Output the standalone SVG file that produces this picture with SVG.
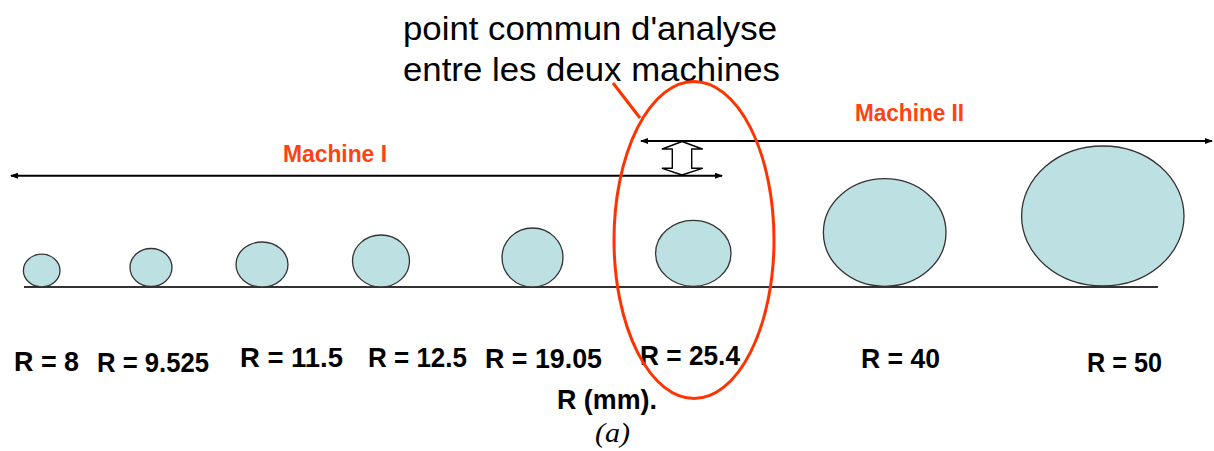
<svg xmlns="http://www.w3.org/2000/svg" width="1214" height="451" viewBox="0 0 1214 451">
  <style>
    .ball { fill: #bde0e3; stroke: #333; stroke-width: 1.3; }
    .lbl { font-family: "Liberation Sans", Arial, sans-serif; font-weight: bold; font-size: 28px; fill: #000; }
    .mach { font-family: "Liberation Sans", Arial, sans-serif; font-weight: bold; font-size: 23px; fill: #ff4212; }
    .title { font-family: "Liberation Sans", Arial, sans-serif; font-size: 34px; fill: #000; }
    .range { stroke: #000; stroke-width: 2; fill: none; }
  </style>
  <defs>
    <marker id="tip" viewBox="0 0 8 6" refX="7" refY="3" markerWidth="4" markerHeight="3" orient="auto-start-reverse" markerUnits="strokeWidth">
      <path d="M0,0 L8,3 L0,6 Z" fill="#000"/>
    </marker>
  </defs>
  <rect width="1214" height="451" fill="#fff"/>

  <g id="title">
    <text class="title" x="403" y="40" textLength="374" lengthAdjust="spacingAndGlyphs">point commun d'analyse</text>
    <text class="title" x="403" y="81" textLength="377" lengthAdjust="spacingAndGlyphs">entre les deux machines</text>
  </g>

  <g id="baseline">
    <line x1="24" y1="287" x2="1158" y2="287" stroke="#333" stroke-width="2"/>
  </g>

  <g id="ball-8"><ellipse class="ball" cx="41.7" cy="270.5" rx="18.3" ry="16.3"/></g>
  <g id="ball-9525"><ellipse class="ball" cx="151" cy="267.5" rx="21" ry="19"/></g>
  <g id="ball-115"><ellipse class="ball" cx="262" cy="264.5" rx="26" ry="22.5"/></g>
  <g id="ball-125"><ellipse class="ball" cx="381" cy="261" rx="28.5" ry="26"/></g>
  <g id="ball-1905"><ellipse class="ball" cx="532.5" cy="257.5" rx="30.5" ry="29.5"/></g>
  <g id="ball-254"><ellipse class="ball" cx="693.3" cy="253.3" rx="37.7" ry="33"/></g>
  <g id="ball-40"><ellipse class="ball" cx="884.7" cy="232.5" rx="61.3" ry="53.8"/></g>
  <g id="ball-50"><ellipse class="ball" cx="1102.8" cy="216" rx="81.2" ry="70"/></g>

  <g id="labels">
    <text class="lbl" x="14" y="371" textLength="65" lengthAdjust="spacingAndGlyphs">R = 8</text>
    <text class="lbl" x="97" y="372" textLength="112" lengthAdjust="spacingAndGlyphs">R = 9.525</text>
    <text class="lbl" x="240" y="367" textLength="103" lengthAdjust="spacingAndGlyphs">R = 11.5</text>
    <text class="lbl" x="368" y="367" textLength="99" lengthAdjust="spacingAndGlyphs">R = 12.5</text>
    <text class="lbl" x="485" y="368" textLength="117" lengthAdjust="spacingAndGlyphs">R = 19.05</text>
    <text class="lbl" x="640" y="365" textLength="100" lengthAdjust="spacingAndGlyphs">R = 25.4</text>
    <text class="lbl" x="861" y="368" textLength="79" lengthAdjust="spacingAndGlyphs">R = 40</text>
    <text class="lbl" x="1087" y="372" textLength="75" lengthAdjust="spacingAndGlyphs">R = 50</text>
    <text class="lbl" x="557" y="409" font-size="26" textLength="100" lengthAdjust="spacingAndGlyphs">R (mm).</text>
    <text x="595" y="442" font-family="'Liberation Serif', 'Times New Roman', serif" font-style="italic" font-size="28" textLength="35" lengthAdjust="spacingAndGlyphs">(a)</text>
  </g>

  <g id="machine-1">
    <text class="mach" x="283" y="162" textLength="104" lengthAdjust="spacingAndGlyphs">Machine I</text>
  </g>
  <g id="machine-2">
    <text class="mach" x="855" y="121" textLength="109" lengthAdjust="spacingAndGlyphs">Machine II</text>
  </g>

  <g id="connectors">
    <line class="range" x1="11" y1="175.7" x2="722" y2="175.7" marker-start="url(#tip)" marker-end="url(#tip)"/>
    <line class="range" x1="641" y1="141" x2="1212" y2="141" marker-start="url(#tip)" marker-end="url(#tip)"/>
    <path d="M682,141.5 L702.3,149 L691.7,149 L691.7,168.3 L702.3,168.3 L682,175 L662.3,168.3 L672.3,168.3 L672.3,149 L662.3,149 Z" fill="#fff" stroke="#000" stroke-width="1.4" stroke-linejoin="round"/>
    <line x1="613" y1="83" x2="640" y2="118" stroke="#ff3300" stroke-width="3"/>
  </g>

  <g id="common-point">
    <ellipse cx="694" cy="240" rx="80" ry="158.5" fill="none" stroke="#ff3300" stroke-width="3"/>
  </g>
</svg>
